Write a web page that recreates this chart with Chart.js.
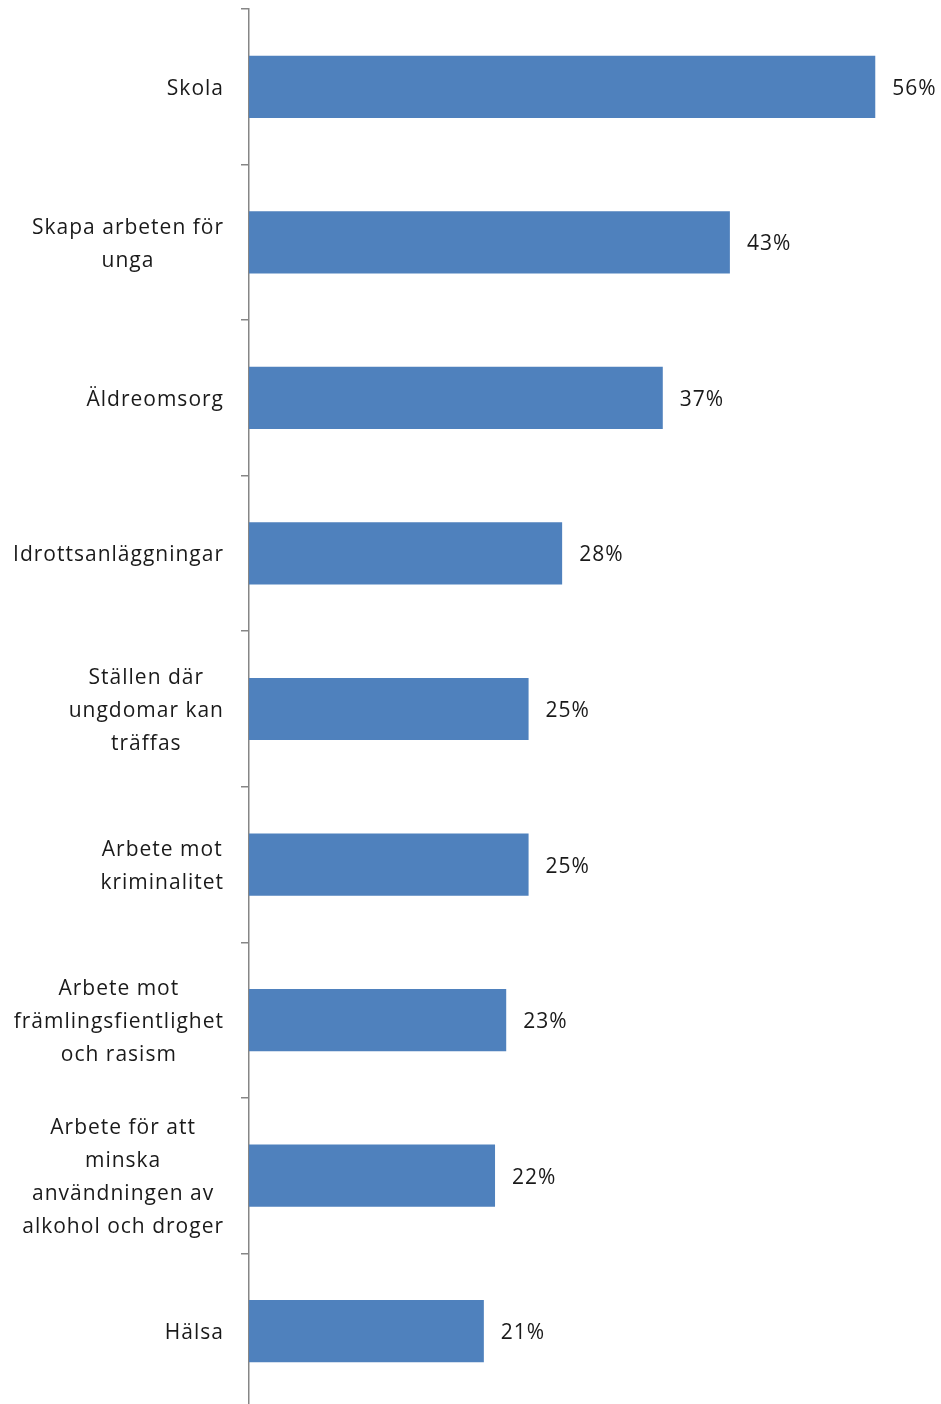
<!DOCTYPE html>
<html>
<head>
<meta charset="utf-8">
<script src="https://cdn.jsdelivr.net/npm/chart.js@4"></script>
<style>
  html, body { margin: 0; padding: 0; background: #fff; overflow: hidden; }
  #wrap { width: 941px; height: 1409px; position: relative; }
</style>
</head>
<body>
<div id="wrap"><canvas id="chart"></canvas></div>
<script>
// Kategorier (rader i diagrammet)
const categories = [
    ["Skola"],
    ["Skapa arbeten för", "unga"],
    ["Äldreomsorg"],
    ["Idrottsanläggningar"],
    ["Ställen där", "ungdomar kan", "träffas"],
    ["Arbete mot", "kriminalitet"],
    ["Arbete mot", "främlingsfientlighet", "och rasism"],
    ["Arbete för att", "minska", "användningen av", "alkohol och droger"],
    ["Hälsa"]
];

// Andel (%)
const values = [56, 43, 37, 28, 25, 25, 23, 22, 21];

const labelFont = '21px "Open Sans", sans-serif';
const textColor = '#1a1a1a';

// Plugin: etiketter på y-axeln (högerjusterat block, centrerade rader) + värden vid staplarna
const labelPlugin = {
    id: 'labels',
    afterDraw(chart) {
        const ctx = chart.ctx;
        const yScale = chart.scales.y;
        ctx.save();
        ctx.font = labelFont;
        ctx.letterSpacing = '1px';
        ctx.fillStyle = textColor;
        ctx.textBaseline = 'middle';
        ctx.textAlign = 'center';

        const lineH = 33;
        const rightEdge = 224;
        categories.forEach((lines, i) => {
            const yc = yScale.getPixelForTick(i) + 2;
            let widest = 0;
            lines.forEach(l => { widest = Math.max(widest, ctx.measureText(l).width); });
            const xc = rightEdge - widest / 2;
            const y0 = yc - (lines.length - 1) * lineH / 2;
            lines.forEach((l, j) => ctx.fillText(l, xc, y0 + j * lineH));
        });

        // värden
        ctx.textAlign = 'left';
        const meta = chart.getDatasetMeta(0);
        meta.data.forEach((bar, i) => {
            ctx.fillText(values[i] + '%', bar.x + 17, bar.y + 2);
        });
        ctx.restore();
    }
};

new Chart(document.getElementById('chart'), {
    type: 'bar',
    data: {
        labels: categories,
        datasets: [{
            data: values,
            backgroundColor: '#4f81bd',
            borderWidth: 0,
            barPercentage: 0.4,
            categoryPercentage: 1.0
        }]
    },
    options: {
        indexAxis: 'y',
        responsive: true,
        maintainAspectRatio: false,
        animation: false,
        layout: { padding: { top: 9, right: 21, bottom: 0, left: 0 } },
        plugins: {
            legend: { display: false },
            tooltip: { enabled: false }
        },
        scales: {
            x: {
                display: false,
                min: 0,
                max: 60
            },
            y: {
                ticks: { display: false },
                grid: {
                    offset: true,
                    drawOnChartArea: false,
                    drawTicks: true,
                    tickLength: 8,
                    color: '#868686',
                    lineWidth: 1.5
                },
                border: { display: true, color: '#868686', width: 1.5 },
                afterFit(scale) { scale.width = 249; }
            }
        }
    },
    plugins: [labelPlugin]
});
</script>
</body>
</html>
